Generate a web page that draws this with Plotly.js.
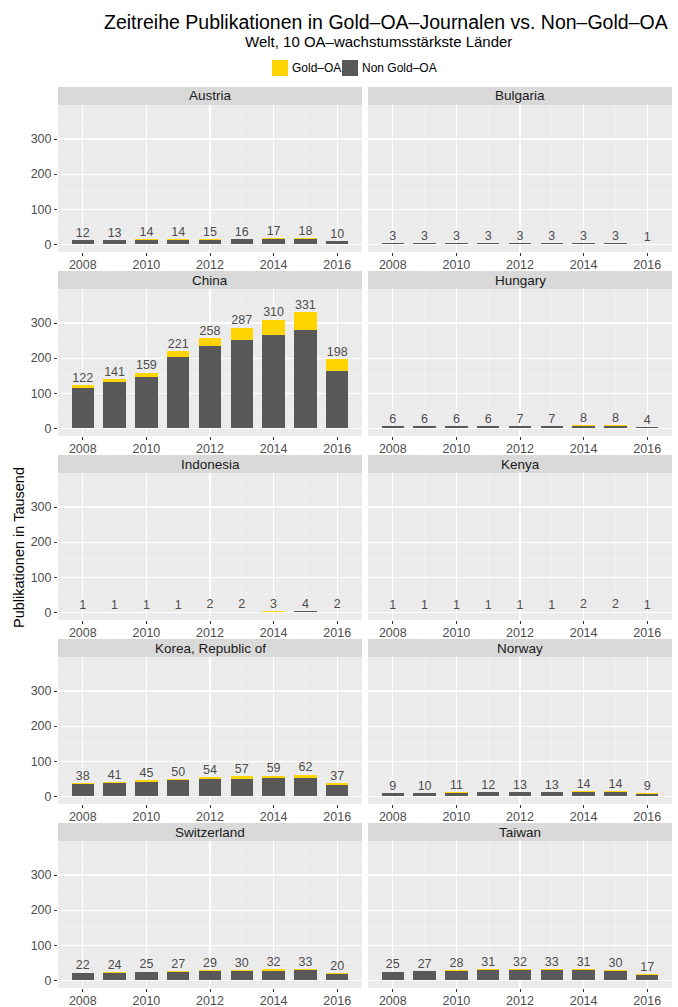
<!DOCTYPE html>
<html>
<head>
<meta charset="utf-8">
<script src="https://cdn.plot.ly/plotly-3.0.1.min.js"></script>
<style>html,body{margin:0;padding:0;background:#fff;}#chart{width:678px;height:1007px;}</style>
</head>
<body>
<div id="chart"></div>
<script>
const years = [2008, 2009, 2010, 2011, 2012, 2013, 2014, 2015, 2016];
const countries = ["Austria", "Bulgaria", "China", "Hungary", "Indonesia", "Kenya", "Korea, Republic of", "Norway", "Switzerland", "Taiwan"];

// total publications (thousands) per country, as labelled
const totalAustria     = [12, 13, 14, 14, 15, 16, 17, 18, 10];
const totalBulgaria    = [3, 3, 3, 3, 3, 3, 3, 3, 1];
const totalChina       = [122, 141, 159, 221, 258, 287, 310, 331, 198];
const totalHungary     = [6, 6, 6, 6, 7, 7, 8, 8, 4];
const totalIndonesia   = [1, 1, 1, 1, 2, 2, 3, 4, 2];
const totalKenya       = [1, 1, 1, 1, 1, 1, 2, 2, 1];
const totalKorea       = [38, 41, 45, 50, 54, 57, 59, 62, 37];
const totalNorway      = [9, 10, 11, 12, 13, 13, 14, 14, 9];
const totalSwitzerland = [22, 24, 25, 27, 29, 30, 32, 33, 20];
const totalTaiwan      = [25, 27, 28, 31, 32, 33, 31, 30, 17];

// Gold-OA part (thousands)
const goldAustria     = [1, 1, 1, 1.5, 2, 2, 2.5, 3, 2];
const goldBulgaria    = [0.2, 0.2, 0.3, 0.3, 0.4, 0.4, 0.5, 0.5, 0.3];
const goldChina       = [8, 10, 13, 19, 24, 34, 44, 52, 34];
const goldHungary     = [0.4, 0.4, 0.5, 0.6, 0.7, 0.8, 1, 1, 0.6];
const goldIndonesia   = [0.2, 0.2, 0.3, 0.3, 0.5, 0.6, 0.8, 1, 0.6];
const goldKenya       = [0.3, 0.3, 0.4, 0.4, 0.5, 0.5, 0.7, 0.7, 0.5];
const goldKorea       = [3, 4, 4, 5, 6, 7, 8, 9, 6];
const goldNorway      = [0.6, 0.7, 0.8, 1, 1.2, 1.5, 2, 2.3, 1.8];
const goldSwitzerland = [1.5, 2, 2.5, 3, 3.5, 4, 4.5, 5, 3.5];
const goldTaiwan      = [1, 1.2, 1.5, 2, 2.5, 3, 3, 3.5, 2];

const seriesNames = ["Gold–OA", "Non Gold–OA"];

const totals = [totalAustria, totalBulgaria, totalChina, totalHungary, totalIndonesia, totalKenya, totalKorea, totalNorway, totalSwitzerland, totalTaiwan];
const golds = [goldAustria, goldBulgaria, goldChina, goldHungary, goldIndonesia, goldKenya, goldKorea, goldNorway, goldSwitzerland, goldTaiwan];

const W = 678, H = 1007;
const GOLD = '#FFD400', NONGOLD = '#595959';
const FONT = 'Liberation Sans, Arial, Helvetica, sans-serif';

const colX = [[58, 362], [368, 672]];
const rowStep = 184;
const stripTop0 = 87, stripH = 18, panelBottom0 = 252;

const traces = [];
const px2y = (p) => 1 - p / H;
const layout = {
  width: W, height: H,
  margin: {l: 0, r: 0, t: 0, b: 0},
  paper_bgcolor: '#FFFFFF',
  plot_bgcolor: '#EBEBEB',
  barmode: 'stack',
  bargap: 0,
  showlegend: false,
  shapes: [],
  annotations: [
    {text: 'Zeitreihe Publikationen in Gold–OA–Journalen vs. Non–Gold–OA', xref: 'paper', yref: 'paper',
     x: 386 / W, y: px2y(22), xanchor: 'center', yanchor: 'middle', showarrow: false,
     font: {family: FONT, size: 19.5, color: '#000'}},
    {text: 'Welt, 10 OA–wachstumsstärkste Länder', xref: 'paper', yref: 'paper',
     x: 378 / W, y: px2y(41), xanchor: 'center', yanchor: 'middle', showarrow: false,
     font: {family: FONT, size: 15, color: '#000'}}
  ]
};

// manual legend (top, centred)
const legendItems = [
  {name: seriesNames[0], color: GOLD, box: 272, text: 290},
  {name: seriesNames[1], color: NONGOLD, box: 342, text: 360}
];
legendItems.forEach(it => {
  layout.shapes.push({type: 'rect', xref: 'paper', yref: 'paper',
    x0: it.box / W, x1: (it.box + 16) / W, y0: px2y(76), y1: px2y(60),
    fillcolor: it.color, line: {width: 0}});
  layout.annotations.push({text: it.name, xref: 'paper', yref: 'paper',
    x: it.text / W, y: px2y(68), xanchor: 'left', yanchor: 'middle', showarrow: false,
    font: {family: FONT, size: 12, color: '#000'}});
});

countries.forEach((c, i) => {
  const row = Math.floor(i / 2), col = i % 2;
  const k = i + 1;
  const xa = 'x' + (k === 1 ? '' : k), ya = 'y' + (k === 1 ? '' : k);
  const xkey = 'xaxis' + (k === 1 ? '' : k), ykey = 'yaxis' + (k === 1 ? '' : k);
  const stripTop = stripTop0 + row * rowStep;
  const stripBot = stripTop + stripH;
  const panelBot = panelBottom0 + row * rowStep;
  const x0 = colX[col][0] / W, x1 = colX[col][1] / W;

  const gold = golds[i];
  const total = totals[i];
  const non = total.map((t, j) => t - gold[j]);

  traces.push({
    type: 'bar', x: years, y: non, xaxis: xa, yaxis: ya, width: 0.7,
    name: seriesNames[1], marker: {color: NONGOLD, line: {width: 0}}, hoverinfo: 'x+y'
  });
  traces.push({
    type: 'bar', x: years, y: gold, xaxis: xa, yaxis: ya, width: 0.7,
    name: seriesNames[0], marker: {color: GOLD, line: {width: 0}}, hoverinfo: 'x+y'
  });
  traces.push({
    type: 'scatter', mode: 'text', x: years, y: total, xaxis: xa, yaxis: ya,
    text: total.map(String), textposition: 'top center', cliponaxis: false,
    textfont: {family: FONT, size: 12.5, color: '#4D4D4D'}, hoverinfo: 'skip'
  });

  layout[xkey] = {
    domain: [x0, x1], anchor: ya, range: [2007.22, 2016.78],
    tickmode: 'linear', tick0: 2008, dtick: 2,
    showgrid: true, gridcolor: '#FFFFFF', gridwidth: 1.1,
    minor: {tickmode: 'linear', tick0: 2009, dtick: 2, showgrid: true, gridcolor: '#F5F5F5', gridwidth: 0.5},
    ticks: 'outside', ticklen: 3, tickcolor: '#333333', tickwidth: 1,
    ticklabelstandoff: -2,
    tickfont: {family: FONT, size: 12.5, color: '#4D4D4D'},
    zeroline: false, showline: false, fixedrange: true
  };
  layout[ykey] = {
    domain: [px2y(panelBot), px2y(stripBot)], anchor: xa, range: [-22, 397],
    tickmode: 'array', tickvals: [0, 100, 200, 300],
    showticklabels: col === 0,
    showgrid: true, gridcolor: '#FFFFFF', gridwidth: 1.1,
    minor: {tickmode: 'array', tickvals: [50, 150, 250, 350], showgrid: true, gridcolor: '#F5F5F5', gridwidth: 0.5},
    ticks: col === 0 ? 'outside' : '', ticklen: 3, tickcolor: '#333333', tickwidth: 1,
    tickfont: {family: FONT, size: 12.5, color: '#4D4D4D'},
    zeroline: false, showline: false, fixedrange: true
  };

  layout.shapes.push({
    type: 'rect', xref: 'paper', yref: 'paper', x0: x0, x1: x1,
    y0: px2y(stripBot), y1: px2y(stripTop), fillcolor: '#D9D9D9', line: {width: 0}, layer: 'below'
  });
  layout.annotations.push({
    text: c, xref: 'paper', yref: 'paper', x: (x0 + x1) / 2, y: px2y((stripTop + stripBot) / 2),
    xanchor: 'center', yanchor: 'middle', showarrow: false,
    font: {family: FONT, size: 13.5, color: '#1A1A1A'}
  });
});

layout.annotations.push({
  text: 'Publikationen in Tausend', xref: 'paper', yref: 'paper',
  x: 19 / W, y: px2y(548), xanchor: 'center', yanchor: 'middle', textangle: -90,
  showarrow: false, font: {family: FONT, size: 14.5, color: '#000'}
});

Plotly.newPlot('chart', traces, layout, {staticPlot: true, displayModeBar: false});
</script>
</body>
</html>
